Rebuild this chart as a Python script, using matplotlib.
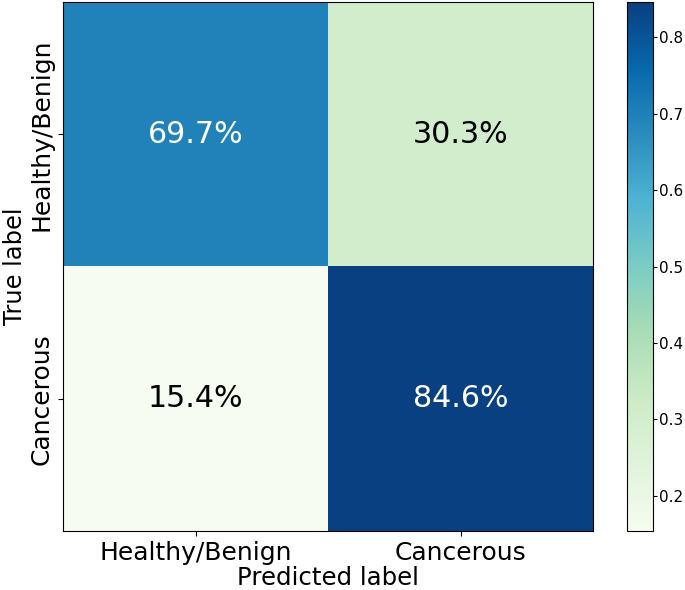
import matplotlib
matplotlib.use("Agg")
import matplotlib.pyplot as plt
import numpy as np

# --------- DATA ----------
class_names = ["Healthy/Benign", "Cancerous"]
row_healthy = [0.697, 0.303]
row_cancer = [0.154, 0.846]
cm = np.array([row_healthy, row_cancer])

# --------- PLOT ----------
fig = plt.figure(figsize=(6.85, 5.9), dpi=100)
ax = fig.add_axes([0.092, 0.100, 0.774, 0.8966])
cax = fig.add_axes([0.915, 0.100, 0.038, 0.8966])

im = ax.imshow(cm, cmap="GnBu", vmin=cm.min(), vmax=cm.max(), aspect="auto")
cb = fig.colorbar(im, cax=cax)
cb.ax.tick_params(labelsize=11, length=3, pad=1.5)
cb.outline.set_linewidth(0.8)

thresh = (cm.max() + cm.min()) / 2
for i in range(cm.shape[0]):
    for j in range(cm.shape[1]):
        color = "white" if cm[i, j] > thresh else "black"
        ax.text(j, i, f"{cm[i, j] * 100:.1f}%", ha="center", va="center",
                fontsize=21.7, color=color)

ax.set_xticks(range(len(class_names)))
ax.set_yticks(range(len(class_names)))
ax.set_xticklabels(class_names, fontsize=18)
ax.set_yticklabels(class_names, fontsize=18, rotation=90, va="center")
ax.set_xlabel("Predicted label", fontsize=17.6, labelpad=1)
ax.set_ylabel("True label", fontsize=17.4, labelpad=2)

fig.savefig("out.png", dpi=100)
plt.close(fig)
